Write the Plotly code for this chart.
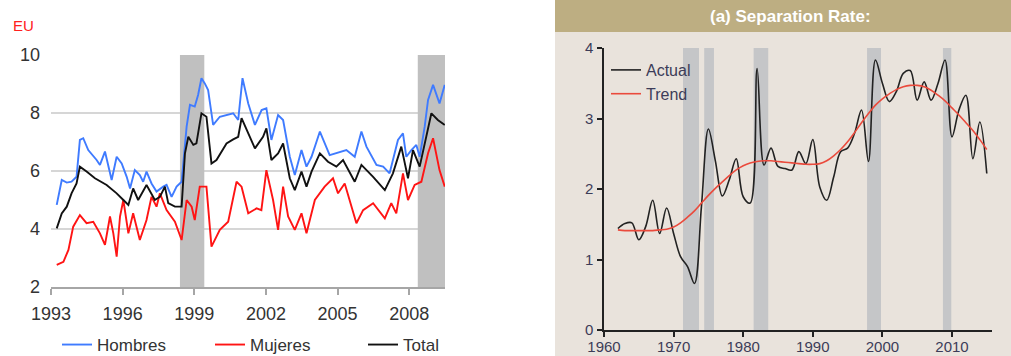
import plotly.graph_objects as go

W, H = 1011, 356

# ---------------- Left panel data (EU) ----------------
hombres_x = [1993.24,1993.45,1993.66,1993.86,1994.07,1994.21,1994.35,1994.56,1994.91,1995.05,1995.26,1995.40,1995.54,1995.75,1995.96,1996.17,1996.31,1996.51,1996.72,1996.86,1997.00,1997.21,1997.42,1997.70,1997.84,1998.05,1998.26,1998.47,1998.56,1998.68,1998.82,1999.02,1999.16,1999.30,1999.44,1999.58,1999.79,2000.07,2000.63,2000.84,2001.02,2001.26,2001.54,2001.82,2002.02,2002.23,2002.51,2002.72,2003.00,2003.21,2003.49,2003.70,2003.91,2004.26,2004.67,2004.95,2005.37,2005.72,2006.00,2006.21,2006.63,2006.91,2007.18,2007.32,2007.53,2007.74,2007.88,2008.09,2008.30,2008.44,2008.65,2008.79,2009.00,2009.27,2009.49]
hombres_y = [4.83,5.69,5.60,5.63,5.80,7.07,7.13,6.72,6.38,6.21,6.67,6.15,5.69,6.49,6.26,5.80,5.40,6.03,5.86,5.63,5.98,5.57,5.29,5.46,5.52,5.11,5.46,5.63,6.38,7.53,8.28,8.22,8.62,9.20,9.02,8.79,7.59,7.87,7.99,7.76,9.20,8.33,7.59,8.10,8.16,7.07,7.93,7.76,6.49,5.86,6.72,6.15,6.49,7.36,6.55,6.61,6.72,6.49,7.36,6.84,6.21,6.15,5.92,6.38,7.07,7.30,6.49,6.72,6.90,6.49,7.53,8.45,8.97,8.33,8.97]

mujeres_x = [1993.24,1993.52,1993.73,1993.93,1994.21,1994.49,1994.77,1995.05,1995.26,1995.47,1995.61,1995.75,1995.89,1996.03,1996.24,1996.44,1996.72,1997.00,1997.21,1997.42,1997.56,1997.84,1998.19,1998.47,1998.68,1998.89,1999.02,1999.23,1999.51,1999.72,2000.07,2000.42,2000.77,2000.98,2001.26,2001.61,2001.81,2002.02,2002.30,2002.51,2002.72,2002.93,2003.21,2003.49,2003.70,2004.05,2004.46,2004.81,2005.02,2005.30,2005.79,2006.07,2006.49,2006.98,2007.25,2007.46,2007.74,2007.95,2008.23,2008.51,2008.79,2009.00,2009.27,2009.49]
mujeres_y = [2.76,2.87,3.28,4.08,4.48,4.20,4.25,3.85,3.45,4.43,3.85,3.05,4.43,5.00,3.85,4.54,3.62,4.31,5.11,4.77,5.23,4.65,4.25,3.62,5.00,4.77,4.31,5.46,5.46,3.39,3.97,4.25,5.63,5.46,4.54,4.71,4.65,6.03,5.00,3.97,5.46,4.43,3.97,4.54,3.85,5.00,5.46,5.75,5.23,5.57,4.20,4.65,4.89,4.37,4.89,4.54,5.92,5.00,5.52,5.63,6.61,7.13,6.03,5.46]

total_x = [1993.24,1993.45,1993.66,1993.86,1994.07,1994.21,1994.49,1994.84,1995.33,1995.75,1996.03,1996.24,1996.44,1996.65,1997.00,1997.35,1997.56,1997.77,1997.91,1998.19,1998.47,1998.61,1998.75,1998.96,1999.09,1999.30,1999.51,1999.72,1999.93,2000.35,2000.63,2000.84,2000.98,2001.26,2001.54,2001.88,2002.02,2002.23,2002.51,2002.72,2003.00,2003.21,2003.49,2003.70,2003.91,2004.26,2004.60,2004.95,2005.23,2005.72,2006.00,2006.49,2006.98,2007.32,2007.67,2007.95,2008.16,2008.44,2008.65,2008.93,2009.20,2009.49]
total_y = [4.02,4.54,4.77,5.23,5.57,6.15,5.98,5.75,5.52,5.23,5.00,4.83,5.40,5.00,5.52,5.00,5.11,5.46,4.89,4.77,4.77,6.61,7.18,6.90,6.95,7.99,7.87,6.26,6.38,6.95,7.09,7.18,7.82,7.30,6.78,7.18,7.47,6.38,6.61,6.95,5.75,5.34,5.98,5.46,5.98,6.61,6.32,6.15,6.38,5.63,6.21,5.80,5.34,5.92,6.84,5.75,6.72,6.15,6.95,7.99,7.76,7.59]

left_bands = [(1998.40, 1999.42), (2008.36, 2009.50)]
left_xticks = [1993, 1996, 1999, 2002, 2005, 2008]

# ---------------- Right panel data (Separation rate) ----------------
years = list(range(1962, 2016))
actual = [1.44,1.51,1.52,1.28,1.47,1.84,1.37,1.73,1.37,1.04,0.90,0.66,1.75,2.85,2.40,1.90,2.13,2.43,1.89,1.80,3.71,2.34,2.58,2.32,2.29,2.27,2.53,2.36,2.70,2.03,1.84,2.17,2.53,2.58,2.79,3.12,2.39,3.83,3.50,3.24,3.38,3.64,3.68,3.26,3.52,3.26,3.50,3.83,2.74,3.12,3.33,2.43,2.95,2.22]
trend = [1.42,1.41,1.41,1.41,1.41,1.41,1.42,1.43,1.46,1.52,1.60,1.69,1.80,1.91,2.01,2.10,2.19,2.27,2.33,2.37,2.39,2.40,2.40,2.39,2.38,2.37,2.36,2.35,2.35,2.36,2.40,2.47,2.56,2.67,2.80,2.94,3.07,3.19,3.28,3.35,3.41,3.45,3.47,3.47,3.45,3.40,3.33,3.25,3.15,3.05,2.94,2.83,2.70,2.56]
right_bands = [(1971.35, 1973.65), (1974.4, 1975.8), (1981.5, 1983.6), (1997.8, 1999.8), (2008.7, 2009.9)]
right_xticks = [1960, 1970, 1980, 1990, 2000, 2010]

FONT = "Liberation Sans, Arial, sans-serif"

fig = go.Figure()

fig.add_trace(go.Scatter(x=hombres_x, y=hombres_y, name="Hombres", mode="lines",
                         line=dict(color="#3f7bff", width=1.9), xaxis="x", yaxis="y", legend="legend"))
fig.add_trace(go.Scatter(x=mujeres_x, y=mujeres_y, name="Mujeres", mode="lines",
                         line=dict(color="#ff1414", width=1.9), xaxis="x", yaxis="y", legend="legend"))
fig.add_trace(go.Scatter(x=total_x, y=total_y, name="Total", mode="lines",
                         line=dict(color="#111111", width=1.9), xaxis="x", yaxis="y", legend="legend"))

fig.add_trace(go.Scatter(x=years, y=actual, name="Actual", mode="lines",
                         line=dict(color="#222222", width=1.6, shape="spline", smoothing=1.0),
                         xaxis="x2", yaxis="y2", legend="legend2"))
fig.add_trace(go.Scatter(x=years, y=trend, name="Trend", mode="lines",
                         line=dict(color="#ea4a3c", width=1.6, shape="spline", smoothing=1.0),
                         xaxis="x2", yaxis="y2", legend="legend2"))

shapes = []
# right panel background and header
shapes.append(dict(type="rect", xref="paper", yref="paper", x0=555 / W, x1=1, y0=0, y1=1 - 32 / H,
                   fillcolor="#e9e3dc", line=dict(width=0), layer="below"))
shapes.append(dict(type="rect", xref="paper", yref="paper", x0=555 / W, x1=1, y0=1 - 32 / H, y1=1,
                   fillcolor="#bdae82", line=dict(width=0), layer="below"))
for a, b in left_bands:
    shapes.append(dict(type="rect", xref="x", yref="y", x0=a, x1=b, y0=2, y1=10,
                       fillcolor="#c0c0c0", line=dict(width=0), layer="between"))
for a, b in right_bands:
    shapes.append(dict(type="rect", xref="x2", yref="y2", x0=a, x1=b, y0=0, y1=4,
                       fillcolor="#c5c6c8", line=dict(width=0), layer="between"))

left_dom_x = [51 / W, 445 / W]
left_dom_y = [1 - 287 / H, 1 - 55 / H]
right_dom_x = [604 / W, 992 / W]
right_dom_y = [1 - 330 / H, 1 - 48 / H]

axis_font_left = dict(family=FONT, size=18, color="#333333")
axis_font_right = dict(family=FONT, size=15, color="#3c3c58")

fig.update_layout(
    width=W, height=H,
    margin=dict(l=0, r=0, t=0, b=0, autoexpand=False),
    paper_bgcolor="white",
    plot_bgcolor="rgba(0,0,0,0)",
    shapes=shapes,
    xaxis=dict(domain=left_dom_x, anchor="y", range=[1993, 2009.5], tickmode="array",
               tickvals=left_xticks, ticks="outside", ticklen=6, tickwidth=1.5,
               tickcolor="#a6a6a6", showline=True, linecolor="#a6a6a6", linewidth=1.5,
               showgrid=False, zeroline=False, tickfont=axis_font_left, ticklabelstandoff=4,
               automargin=False),
    yaxis=dict(domain=left_dom_y, anchor="x", range=[2, 10], dtick=2, showgrid=True,
               gridcolor="#d6d6d6", gridwidth=1.5, zeroline=False, showline=False,
               ticks="", tickfont=axis_font_left, ticklabelstandoff=10, automargin=False),
    xaxis2=dict(domain=right_dom_x, anchor="y2", range=[1960, 2015.75], tickmode="array",
                tickvals=right_xticks, ticks="outside", ticklen=5, tickwidth=1.5,
                tickcolor="#222222", showline=True, linecolor="#222222", linewidth=1.5,
                showgrid=False, zeroline=False, tickfont=axis_font_right, ticklabelstandoff=-3,
                automargin=False),
    yaxis2=dict(domain=right_dom_y, anchor="x2", range=[0, 4], dtick=1, ticks="outside",
                ticklen=5, tickwidth=1.5, tickcolor="#222222", showline=True,
                linecolor="#222222", linewidth=1.5, showgrid=False, zeroline=False,
                tickfont=axis_font_right, ticklabelstandoff=1, automargin=False),
    yaxis3=dict(domain=right_dom_y, anchor="x2", overlaying="y2", side="right", range=[0, 4],
                showline=True, linecolor="#222222", linewidth=1.5, showticklabels=False,
                ticks="", showgrid=False, zeroline=False, automargin=False),
    legend=dict(orientation="h", x=57 / W, xanchor="left", y=11 / H, yanchor="middle",
                bgcolor="rgba(0,0,0,0)", font=dict(family=FONT, size=17, color="#333333"),
                entrywidth=108, traceorder="normal"),
    legend2=dict(orientation="v", x=606 / W, xanchor="left", y=1 - 53 / H, yanchor="top",
                 bgcolor="rgba(0,0,0,0)", font=dict(family=FONT, size=16, color="#3c3c58"),
                 tracegroupgap=0),
    annotations=[
        dict(text="EU", xref="paper", yref="paper", x=11 / W, y=1 - 25 / H, xanchor="left",
             yanchor="middle", showarrow=False, font=dict(family=FONT, size=15, color="#ff2020")),
        dict(text="<b>(a) Separation Rate:</b>", xref="paper", yref="paper", x=790 / W,
             y=1 - 17 / H, xanchor="center", yanchor="middle", showarrow=False,
             font=dict(family=FONT, size=17, color="white")),
    ],
)

fig.write_html("out.html", config={"displayModeBar": False},
               post_script="document.body.style.margin='0px';document.body.style.overflow='hidden';")
